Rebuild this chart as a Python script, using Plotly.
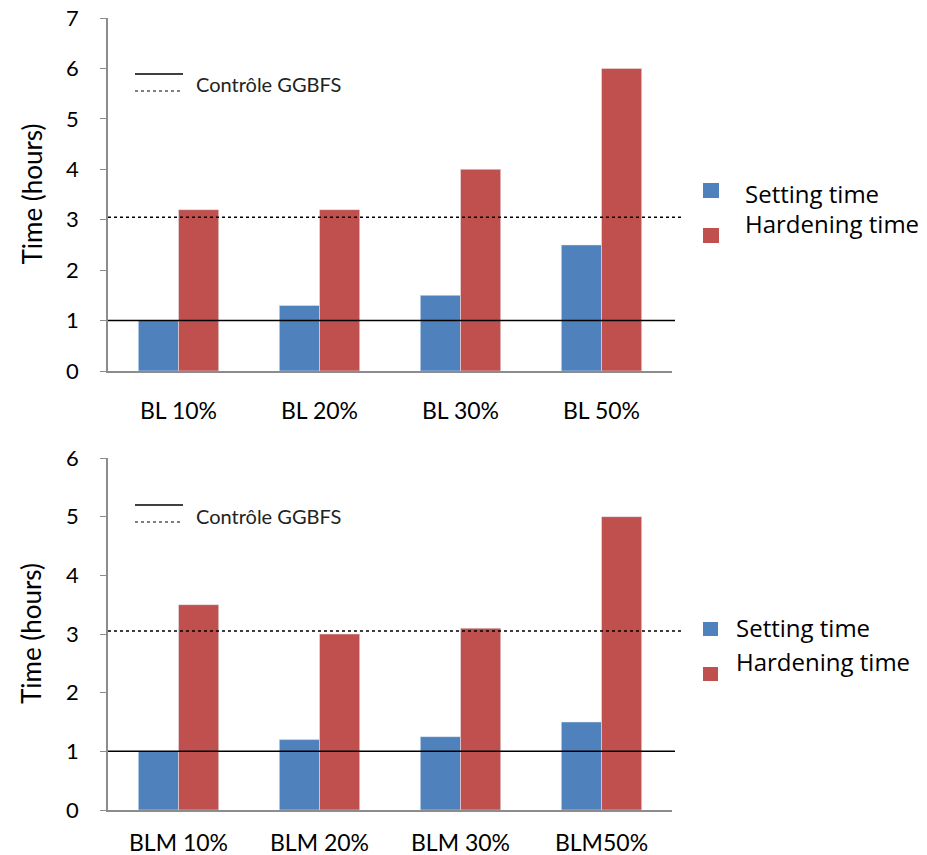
import plotly.graph_objects as go

# Data
cats_top = ["BL 10%", "BL 20%", "BL 30%", "BL 50%"]
setting_top = [1.0, 1.3, 1.5, 2.5]
hardening_top = [3.2, 3.2, 4.0, 6.0]

cats_bot = ["BLM 10%", "BLM 20%", "BLM 30%", "BLM50%"]
setting_bot = [1.0, 1.2, 1.25, 1.5]
hardening_bot = [3.5, 3.0, 3.1, 5.0]

ctrl_setting = 1.0     # GGBFS control setting time (solid line)
ctrl_hardening = 3.05  # GGBFS control hardening time (dotted line)

yticks_top = [0, 1, 2, 3, 4, 5, 6, 7]
yticks_bot = [0, 1, 2, 3, 4, 5, 6]

BLUE = "#4F81BD"
RED = "#C0504D"
AXIS = "#8C8C8C"
FONT = "Lato"
LEGEND_FONT = "Open Sans"

W, H = 927, 855


def px(x):
    return x / W


def py(y):
    return 1 - y / H


fig = go.Figure()

fig.add_trace(go.Bar(x=cats_top, y=setting_top, marker_color=BLUE, xaxis="x", yaxis="y",
                     name="Setting time", showlegend=False))
fig.add_trace(go.Bar(x=cats_top, y=hardening_top, marker_color=RED, xaxis="x", yaxis="y",
                     name="Hardening time", showlegend=False))
fig.add_trace(go.Bar(x=cats_bot, y=setting_bot, marker_color=BLUE, xaxis="x2", yaxis="y2",
                     name="Setting time", showlegend=False))
fig.add_trace(go.Bar(x=cats_bot, y=hardening_bot, marker_color=RED, xaxis="x2", yaxis="y2",
                     name="Hardening time", showlegend=False))

xdom = [px(108), px(672)]
axis_common = dict(showline=True, linecolor=AXIS, linewidth=1.5, showgrid=False,
                   zeroline=False, automargin=False)

xaxis_style = dict(ticks="", tickfont=dict(size=23), **axis_common)
yaxis_style = dict(ticks="outside", ticklen=6, tickcolor=AXIS, ticklabelstandoff=17,
                   tickfont=dict(size=22), **axis_common)

fig.update_layout(
    width=W, height=H,
    margin=dict(l=0, r=0, t=0, b=0, autoexpand=False),
    paper_bgcolor="white", plot_bgcolor="white",
    barmode="group", bargap=0.43, bargroupgap=0,
    font=dict(family=FONT, color="black", size=20),
    xaxis=dict(domain=xdom, anchor="y", ticklabelstandoff=19, **xaxis_style),
    yaxis=dict(domain=[py(371), py(18)], anchor="x", range=[0, 7], tickvals=yticks_top,
               **yaxis_style),
    xaxis2=dict(domain=xdom, anchor="y2", ticklabelstandoff=12, **xaxis_style),
    yaxis2=dict(domain=[py(810), py(458)], anchor="x2", range=[0, 6], tickvals=yticks_bot,
                **yaxis_style),
)

shapes = []
annotations = []

# (y axis, plot top px, plot bottom px, solid sample y, dotted sample y, label y,
#  setting text y, hardening text y, text x, blue square top, red square top, square size)
panels = [
    ("y", 18, 371, 74, 91, 84, 193, 223, 743, 183, 228, 15),
    ("y2", 458, 810, 505, 522, 516, 627, 661, 734, 622, 667, 14),
]

for (yref, ytop, ybot, sol_y, dot_y, lab_y, set_y, hard_y, txt_x,
     blue_top, red_top, sq) in panels:
    # control lines
    shapes.append(dict(type="line", xref="paper", yref=yref, x0=px(108), x1=px(675),
                       y0=ctrl_setting, y1=ctrl_setting, line=dict(color="black", width=1.5)))
    shapes.append(dict(type="line", xref="paper", yref=yref, x0=px(108), x1=px(681),
                       y0=ctrl_hardening, y1=ctrl_hardening,
                       line=dict(color="black", width=1.5, dash="dot")))
    # in-plot legend for control lines
    shapes.append(dict(type="line", xref="paper", yref="paper", x0=px(135), x1=px(183),
                       y0=py(sol_y), y1=py(sol_y), line=dict(color="black", width=1.5)))
    shapes.append(dict(type="line", xref="paper", yref="paper", x0=px(135), x1=px(183),
                       y0=py(dot_y), y1=py(dot_y), line=dict(color="black", width=1.2, dash="dot")))
    annotations.append(dict(text="Contrôle GGBFS", xref="paper", yref="paper",
                            x=px(194), y=py(lab_y), xanchor="left", yanchor="middle",
                            showarrow=False, font=dict(size=20, color="#222222")))
    # series legend
    shapes.append(dict(type="rect", xref="paper", yref="paper", x0=px(703), x1=px(703 + sq + 1),
                       y0=py(blue_top), y1=py(blue_top + sq), fillcolor=BLUE,
                       line=dict(width=0)))
    shapes.append(dict(type="rect", xref="paper", yref="paper", x0=px(703), x1=px(703 + sq + 1),
                       y0=py(red_top), y1=py(red_top + sq), fillcolor=RED,
                       line=dict(width=0)))
    annotations.append(dict(text="Setting time", xref="paper", yref="paper",
                            x=px(txt_x), y=py(set_y), xanchor="left", yanchor="middle",
                            showarrow=False, font=dict(family=LEGEND_FONT, size=24)))
    annotations.append(dict(text="Hardening time", xref="paper", yref="paper",
                            x=px(txt_x), y=py(hard_y), xanchor="left", yanchor="middle",
                            showarrow=False, font=dict(family=LEGEND_FONT, size=24)))
    # axis title
    annotations.append(dict(text="Time (hours)", xref="paper", yref="paper",
                            x=px(31), y=py((ytop + ybot) / 2), xanchor="center", yanchor="middle",
                            textangle=-90, showarrow=False, font=dict(size=26)))

fig.update_layout(shapes=shapes, annotations=annotations)

fig.write_html("out.html")
